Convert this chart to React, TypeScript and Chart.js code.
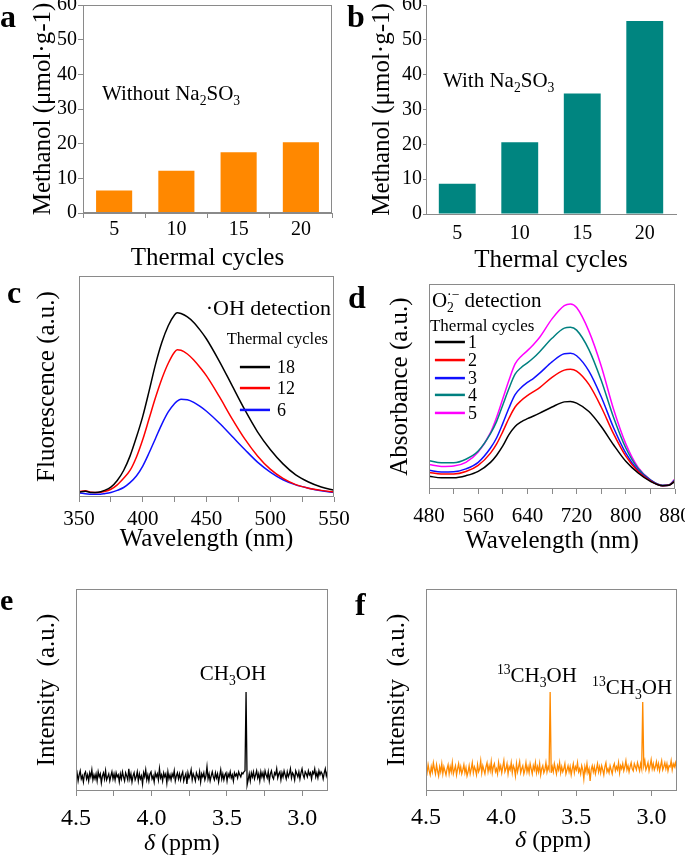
import React, { useEffect, useRef } from 'react';
import { Chart, registerables } from 'chart.js';

Chart.register(...registerables);

const SERIF = '"Liberation Serif", "Times New Roman", Times, serif';
const AXIS_COLOR = '#8a8a8a';

// ---------- panels a / b : methanol yield ----------
const cycleLabels = ['5', '10', '15', '20'];
const methanolWithoutNa2SO3 = [6.5, 12.2, 17.5, 20.4];
const methanolWithNa2SO3 = [8.7, 20.6, 34.6, 55.4];

// ---------- panel c : fluorescence ----------
const fluoWavelength = [350, 355, 360, 365, 370, 375, 380, 385, 390, 395, 400, 405, 410, 415, 420, 425, 427, 430, 435, 440, 445, 450, 460, 470, 480, 490, 500, 510, 520, 530, 540, 550];
const fluoCycles18 = [2.3, 2.6, 2.0, 2.1, 3.0, 4.5, 7.5, 12, 18.5, 27, 36.5, 48, 60, 70, 77.5, 82.5, 83.4, 83, 81.5, 79, 75.5, 71.5, 61.5, 50.5, 39.5, 29.5, 21.5, 15, 10, 6.8, 4.5, 3.0];
const fluoCycles12 = [2.5, 2.8, 2.1, 2.0, 2.5, 3.5, 5.5, 8.5, 12, 18, 26, 35.5, 45, 53.5, 60.5, 65.6, 66.6, 66.4, 64.7, 62, 58.6, 54.8, 45.5, 35.5, 26.3, 18.6, 12.6, 8.4, 5.6, 4.0, 3.0, 2.3];
const fluoCycles6 = [1.8, 1.5, 1.2, 1.2, 1.5, 2.0, 3.0, 4.3, 6.5, 9.5, 14, 20, 26.5, 33, 38.5, 42.3, 43.4, 44.2, 44, 42.8, 41, 38.8, 33.5, 27.5, 21.5, 15.8, 11.3, 7.8, 5.5, 4.0, 2.8, 2.0];
const fluoLegend = ['18', '12', '6'];

// ---------- panel d : absorbance ----------
const absWavelength = [480, 500, 520, 540, 560, 580, 590, 600, 610, 620, 630, 640, 650, 660, 680, 700, 710, 720, 740, 760, 780, 800, 820, 840, 860, 870, 880];
const absCycle1 = [6.2, 5.5, 5.5, 6.5, 8.6, 13, 16.5, 21, 26.5, 30.5, 32.8, 34.3, 35.6, 37, 40, 42.5, 42.7, 41.9, 37.8, 30.5, 21.6, 13.5, 7.8, 3.7, 1.6, 1.8, 3.7];
const absCycle2 = [8.1, 7.3, 7.3, 8.5, 11.5, 17.5, 22, 28, 34.5, 40, 43.2, 45.5, 47.5, 49.5, 54.5, 58, 58.4, 57.5, 51, 40, 27, 16, 8.5, 4, 1.6, 1.8, 4];
const absCycle3 = [9.1, 8.3, 8.4, 9.8, 13, 20, 25, 32, 39.5, 46, 49.5, 52, 54, 56.5, 62, 66, 66.2, 65, 57.5, 45, 30, 17.5, 9, 4.2, 1.6, 1.8, 4.2];
const absCycle4 = [13.8, 12.8, 12.8, 14.5, 18.5, 27, 33, 41, 49, 56, 59.3, 61.5, 64, 67, 73.5, 78.5, 78.9, 77.5, 68, 53, 35, 20, 10, 4.5, 1.8, 2, 4.5];
const absCycle5 = [11.9, 11, 11.2, 13, 18, 27.5, 35, 44, 53, 61, 64.8, 67.5, 70.5, 74, 83, 89.5, 90.3, 88.5, 77, 60, 39, 22, 10.5, 4.5, 1.8, 2, 5];
const absLegend = ['1', '2', '3', '4', '5'];

// ---------- panels e / f : NMR ----------
const NMR_START_PPM = 4.5;
const NMR_STEP_PPM = 0.007;
const nmrIntensityE = [
  7, 9, 5, 8, 10, 6, 7.5, 4.5, 8.5, 9.5, 6, 8, 5, 9, 7, 10.5, 5.5, 8, 6, 8.5,
  5, 9.5, 7, 8.5, 4, 7.5, 9, 6, 10, 5.5, 7, 8.5, 5, 7.5, 9.5, 6, 8.5, 5.5, 9, 7,
  8, 4.5, 8.5, 6, 9.5, 7, 5, 9, 7.5, 5.5, 11, 6, 8.5, 4.5, 7.5, 9, 5.5, 7, 9.5, 5,
  8.5, 6, 7.5, 3.5, 9, 7, 10.5, 5.5, 8, 5, 8.5, 9.5, 6, 7.5, 4.5, 9, 7, 8.5, 5.5, 11,
  6.5, 8, 5, 9, 7, 8.5, 4, 9.5, 6, 8, 5.5, 8.5, 7, 10, 5, 7.5, 9, 6, 8.5, 5.5,
  8, 9.5, 5, 7, 8.5, 3.5, 9, 6.5, 8, 10.5, 5.5, 8.5, 7, 5, 9, 7.5, 6, 9.5, 4.5, 8.5,
  7, 9, 5.5, 7.5, 12, 6, 8.5, 5, 7.5, 9.5, 7, 5.5, 9, 6.5, 8.5, 4.5, 7.5, 10.5, 6, 8.5,
  5.5, 8, 9, 5, 8.5, 7, 9.5, 6.5, 8, 5, 9, 7.5, 8.5, 6.5, 9.5, 8, 7, 9, 8.5, 9.5,
  10, 49, 3, 5.5, 8.5, 5, 9, 7, 9.5, 6, 8, 10, 6.5, 8.5, 5, 9.5, 7, 9, 6, 10,
  8, 6.5, 9.5, 5, 8.5, 10, 7, 6, 9, 8, 11, 6.5, 8.5, 9.5, 5.5, 9, 7, 10, 8, 6,
  9.5, 7, 8.5, 11, 6.5, 9, 8, 5.5, 10, 8.5, 7, 9.5, 6, 9, 11, 8, 6.5, 9.5, 8.5, 7,
  10, 8, 9, 6, 9.5, 8.5, 11, 7, 9, 6.5, 10, 8, 9.5, 8.5, 6, 9, 11, 7.5, 9.5, 8.5,
];
const nmrIntensityF = [
  11, 9, 13, 10, 8, 12, 9.5, 14, 11, 8.5, 13, 10, 7.5, 12, 9.5, 13.5, 8.5, 12, 10, 8,
  11, 13, 8.5, 12, 9.5, 14, 8.5, 10.5, 12.5, 8, 11, 13.5, 9.5, 12, 8.5, 10.5, 13, 9, 11.5, 7.5,
  9.5, 12.5, 8.5, 11, 14, 9, 12, 10.5, 8, 13, 9.5, 11, 15, 9, 12.5, 10.5, 8.5, 12, 14, 9.5,
  12.5, 10, 14.5, 9, 12, 13.5, 9.5, 11, 8.5, 14, 10.5, 12.5, 9, 12, 15, 9.5, 11, 13.5, 8.5, 12,
  10.5, 14, 9, 12.5, 11, 7.5, 13.5, 9.5, 12, 14.5, 9, 11, 12.5, 8.5, 10.5, 14, 9.5, 12, 9, 13.5,
  11, 8.5, 12.5, 10.5, 14, 9, 12, 9.5, 13.5, 8, 11, 12.5, 9, 10.5, 14, 9.5, 12, 10.5, 49, 9,
  12, 9.5, 13.5, 11, 8.5, 12.5, 10.5, 14, 9, 12, 9.5, 11, 13.5, 8.5, 10.5, 12.5, 9.5, 12, 8, 11,
  13.5, 9, 12, 10.5, 14, 9.5, 11, 8.5, 12.5, 10.5, 6, 12, 9.5, 13.5, 9, 11, 5, 10.5, 12.5, 9.5,
  12, 8.5, 11, 13.5, 9.5, 12, 9, 12.5, 10.5, 8, 12, 14, 9.5, 11, 9, 12.5, 10.5, 8.5, 12, 13.5,
  10, 12, 10.5, 14, 9, 12.5, 11, 13.5, 10, 12, 15, 10.5, 12.5, 9.5, 12, 14, 11, 10, 13.5, 12,
  10.5, 14, 12, 10, 13.5, 11, 44, 12.5, 15, 10.5, 12, 14, 10, 12.5, 15.5, 11, 13.5, 10.5, 12, 14.5,
  11, 13.5, 10, 12.5, 15, 10.5, 12, 14, 11, 13.5, 10, 12.5, 12, 15, 10.5, 13.5, 12, 14, 11, 12.5,
];

// ---------- helpers ----------
type Seg = { t: string; k?: 'b' | 'p'; it?: boolean; hold?: boolean };
type Note = { segs: Seg[]; fx: number; fy: number; size: number; align: 'left' | 'center' | 'right' };
type LegendSpec = { fx1: number; fx2: number; fxl: number; fys: number[]; size: number };
type Decor = { frame: boolean; notes: Note[]; legend?: LegendSpec; letter: { t: string; x: number; y: number; size: number } };
type Box = { left: number; top: number; width: number; height: number };
type Layout = { canvas: Box; padTop: number; padRight: number; yWidth: number; xHeight: number };

function segFont(s: Seg, size: number) {
  const sz = s.k ? size * 0.65 : size;
  return `${s.it ? 'italic ' : ''}${sz}px ${SERIF}`;
}

function drawRich(ctx: CanvasRenderingContext2D, segs: Seg[], x: number, y: number, size: number, align: string) {
  const ws = segs.map((s) => {
    ctx.font = segFont(s, size);
    return ctx.measureText(s.t).width;
  });
  let total = 0;
  segs.forEach((s, i) => {
    if (!s.hold) total += ws[i];
  });
  let cx = align === 'left' ? x : align === 'center' ? x - total / 2 : x - total;
  ctx.textAlign = 'left';
  ctx.textBaseline = 'alphabetic';
  ctx.fillStyle = '#000';
  segs.forEach((s, i) => {
    ctx.font = segFont(s, size);
    const dy = s.k === 'b' ? size * 0.22 : s.k === 'p' ? -size * 0.38 : 0;
    ctx.fillText(s.t, cx, y + dy);
    if (!s.hold) cx += ws[i];
  });
}

function decorPlugin(d: Decor, canvas: Box) {
  return {
    id: 'panelDecor',
    afterDraw(chart: any) {
      const ctx: CanvasRenderingContext2D = chart.ctx;
      const a = chart.chartArea;
      const w = a.right - a.left;
      const h = a.bottom - a.top;
      ctx.save();
      if (d.frame) {
        ctx.strokeStyle = AXIS_COLOR;
        ctx.lineWidth = 1;
        ctx.strokeRect(Math.round(a.left) + 0.5, Math.round(a.top) + 0.5, Math.round(w) - 1, Math.round(h) - 1);
      }
      d.notes.forEach((n) => {
        drawRich(ctx, n.segs, a.left + n.fx * w, a.top + n.fy * h, n.size, n.align);
      });
      if (d.legend) {
        const L = d.legend;
        chart.data.datasets.forEach((ds: any, i: number) => {
          const y = a.top + L.fys[i] * h;
          ctx.strokeStyle = ds.borderColor;
          ctx.lineWidth = 2.5;
          ctx.beginPath();
          ctx.moveTo(a.left + L.fx1 * w, y);
          ctx.lineTo(a.left + L.fx2 * w, y);
          ctx.stroke();
          ctx.fillStyle = '#000';
          ctx.font = `${L.size}px ${SERIF}`;
          ctx.textAlign = 'left';
          ctx.textBaseline = 'middle';
          ctx.fillText(ds.label, a.left + L.fxl * w, y + 1);
        });
      }
      ctx.fillStyle = '#000';
      ctx.font = `bold ${d.letter.size}px ${SERIF}`;
      ctx.textAlign = 'left';
      ctx.textBaseline = 'alphabetic';
      ctx.fillText(d.letter.t, d.letter.x - canvas.left, d.letter.y - canvas.top);
      ctx.restore();
    },
  };
}

const fitY = (w: number) => (s: any) => {
  s.width = w;
  s.paddingTop = 0;
  s.paddingBottom = 0;
  s.paddingLeft = 0;
  s.paddingRight = 0;
};
const fitX = (h: number) => (s: any) => {
  s.height = h;
  s.paddingTop = 0;
  s.paddingBottom = 0;
  s.paddingLeft = 0;
  s.paddingRight = 0;
};

function baseOptions(L: Layout) {
  return {
    responsive: false,
    maintainAspectRatio: false,
    animation: false,
    devicePixelRatio: 1,
    events: [],
    layout: { padding: { top: L.padTop, right: L.padRight, left: 0, bottom: 0 } },
    plugins: { legend: { display: false }, tooltip: { enabled: false }, title: { display: false } },
  };
}

const titleFont = { family: SERIF, size: 25 };
const yTitle = (text: string, pad: number) => ({ display: true, text, font: titleFont, color: '#000', padding: { top: pad, bottom: 0 } });
const xTitle = (text: string, pad: number) => ({ display: true, text, font: titleFont, color: '#000', padding: { top: 0, bottom: pad } });

const toXY = (xs: number[], ys: number[]) => xs.map((x, i) => ({ x, y: ys[i] }));
const nmrXY = (ys: number[]) => ys.map((y, i) => ({ x: +(NMR_START_PPM - i * NMR_STEP_PPM).toFixed(4), y }));

const subNa2SO3 = (prefix: string): Seg[] => [{ t: prefix + 'Na' }, { t: '2', k: 'b' }, { t: 'SO' }, { t: '3', k: 'b' }];
const ch3oh = (label13: boolean): Seg[] => [
  ...(label13 ? [{ t: '13', k: 'p' as const }] : []),
  { t: 'CH' },
  { t: '3', k: 'b' },
  { t: 'OH' },
];

// ---------- chart configs ----------
function barConfig(L: Layout, values: number[], color: string, framed: boolean, note: Note, letter: any, barPct: number, xTickLen: number, xPad: number, yTickLen: number, yPad: number, yTitlePad: number, xTitlePad: number) {
  const tf = { family: SERIF, size: 20 };
  return {
    type: 'bar',
    data: {
      labels: cycleLabels,
      datasets: [{ data: values, backgroundColor: color, borderWidth: 0, barPercentage: barPct, categoryPercentage: 1 }],
    },
    options: {
      ...baseOptions(L),
      scales: {
        x: {
          offset: true,
          grid: { display: true, drawOnChartArea: false, drawTicks: xTickLen > 0, tickLength: xTickLen, color: AXIS_COLOR, offset: true },
          border: { display: true, color: AXIS_COLOR },
          ticks: { font: tf, color: '#000', padding: xPad, maxRotation: 0 },
          title: xTitle('Thermal cycles', xTitlePad),
          afterFit: fitX(L.xHeight),
        },
        y: {
          min: 0,
          max: 60,
          grid: { display: true, drawOnChartArea: false, drawTicks: true, tickLength: yTickLen, color: AXIS_COLOR },
          border: { display: true, color: AXIS_COLOR },
          ticks: { stepSize: 10, font: tf, color: '#000', padding: yPad },
          title: yTitle('Methanol (μmol·g-1)', yTitlePad),
          afterFit: fitY(L.yWidth),
        },
      },
    },
    plugins: [decorPlugin({ frame: framed, notes: [note], letter }, L.canvas)],
  };
}

function lineConfig(
  L: Layout,
  datasets: any[],
  xOpts: any,
  yTitleText: string,
  yTitlePad: number,
  xTitleText: string | null,
  xTitlePad: number,
  decor: Decor
) {
  return {
    type: 'line',
    data: { datasets },
    options: {
      ...baseOptions(L),
      scales: {
        x: {
          type: 'linear',
          ...xOpts,
          grid: { display: true, drawOnChartArea: false, drawTicks: true, tickLength: 5, color: AXIS_COLOR },
          border: { display: false },
          title: xTitleText ? xTitle(xTitleText, xTitlePad) : { display: false },
          afterFit: fitX(L.xHeight),
        },
        y: {
          min: 0,
          max: 100,
          grid: { display: false, drawTicks: false },
          border: { display: false },
          ticks: { display: false },
          title: yTitle(yTitleText, yTitlePad),
          afterFit: fitY(L.yWidth),
        },
      },
    },
    plugins: [decorPlugin(decor, L.canvas)],
  };
}

const lineDs = (label: string, data: any[], color: string, width: number, smooth: boolean) => ({
  label,
  data,
  borderColor: color,
  backgroundColor: color,
  borderWidth: width,
  pointRadius: 0,
  fill: false,
  tension: smooth ? 0.4 : 0,
  cubicInterpolationMode: smooth ? 'monotone' : 'default',
});

const specFont = { family: SERIF, size: 21 };
const nmrFont = { family: SERIF, size: 24 };

const LAYOUTS: Record<string, Layout> = {
  a: { canvas: { left: 0, top: 0, width: 340, height: 278 }, padTop: 5, padRight: 8, yWidth: 83, xHeight: 65 },
  b: { canvas: { left: 340, top: 0, width: 345, height: 278 }, padTop: 5, padRight: 9, yWidth: 86, xHeight: 64 },
  c: { canvas: { left: 0, top: 266, width: 350, height: 300 }, padTop: 10, padRight: 16, yWidth: 79, xHeight: 69 },
  d: { canvas: { left: 340, top: 270, width: 345, height: 296 }, padTop: 14, padRight: 10, yWidth: 89, xHeight: 77 },
  e: { canvas: { left: 0, top: 576, width: 340, height: 285 }, padTop: 13, padRight: 12, yWidth: 76, xHeight: 70 },
  f: { canvas: { left: 340, top: 576, width: 345, height: 285 }, padTop: 13, padRight: 8, yWidth: 86, xHeight: 70 },
};

const ppmTicks = (pad: number) => ({
  min: 2.83,
  max: 4.5,
  reverse: true,
  ticks: {
    stepSize: 0.25,
    includeBounds: false,
    autoSkip: false,
    maxRotation: 0,
    font: nmrFont,
    color: '#000',
    padding: pad,
    callback: (v: any) => {
      const d = Number(v) * 2;
      return Math.abs(d - Math.round(d)) < 1e-6 ? Number(v).toFixed(1) : '';
    },
  },
});

function buildConfig(key: string): any {
  const L = LAYOUTS[key];
  switch (key) {
    case 'a':
      return barConfig(
        L, methanolWithoutNa2SO3, '#FF8800', true,
        { segs: subNa2SO3('Without '), fx: 0.076, fy: 0.457, size: 21, align: 'left' },
        { t: 'a', x: 0, y: 27, size: 32 },
        0.58, 5, 0, 5, 1, 28, 5
      );
    case 'b':
      return barConfig(
        L, methanolWithNa2SO3, '#008580', false,
        { segs: subNa2SO3('With '), fx: 0.068, fy: 0.392, size: 21, align: 'left' },
        { t: 'b', x: 347, y: 27, size: 32 },
        0.59, 0, 8, 3, 1, 27, 3
      );
    case 'c':
      return lineConfig(
        L,
        [
          lineDs(fluoLegend[0], toXY(fluoWavelength, fluoCycles18), '#000000', 1.5, true),
          lineDs(fluoLegend[1], toXY(fluoWavelength, fluoCycles12), '#FF0000', 1.5, true),
          lineDs(fluoLegend[2], toXY(fluoWavelength, fluoCycles6), '#1010FF', 1.5, true),
        ],
        {
          min: 350,
          max: 550,
          ticks: {
            stepSize: 25, autoSkip: false, maxRotation: 0, font: specFont, color: '#000', padding: 5,
            callback: (v: any) => (Number(v) % 50 === 0 ? String(v) : ''),
          },
        },
        'Fluorescence (a.u.)', 32, 'Wavelength (nm)', 12,
        {
          frame: true,
          notes: [
            { segs: [{ t: '·OH detection' }], fx: 0.988, fy: 0.176, size: 22, align: 'right' },
            { segs: [{ t: 'Thermal cycles' }], fx: 0.976, fy: 0.308, size: 16.5, align: 'right' },
          ],
          legend: { fx1: 0.631, fx2: 0.749, fxl: 0.776, fys: [0.412, 0.507, 0.606], size: 18 },
          letter: { t: 'c', x: 7, y: 303, size: 32 },
        }
      );
    case 'd':
      return lineConfig(
        L,
        [
          lineDs(absLegend[0], toXY(absWavelength, absCycle1), '#000000', 1.5, true),
          lineDs(absLegend[1], toXY(absWavelength, absCycle2), '#FF0000', 1.5, true),
          lineDs(absLegend[2], toXY(absWavelength, absCycle3), '#1010FF', 1.5, true),
          lineDs(absLegend[3], toXY(absWavelength, absCycle4), '#008080', 1.5, true),
          lineDs(absLegend[4], toXY(absWavelength, absCycle5), '#FF00FF', 1.5, true),
        ],
        {
          min: 480,
          max: 880,
          ticks: {
            stepSize: 40, autoSkip: false, maxRotation: 0, font: specFont, color: '#000', padding: 10,
            callback: (v: any) => ((Number(v) - 480) % 80 === 0 ? String(v) : ''),
          },
        },
        'Absorbance (a.u.)', 45, 'Wavelength (nm)', 10,
        {
          frame: true,
          notes: [
            { segs: [{ t: 'O' }, { t: '2', k: 'b', hold: true }, { t: '·−', k: 'p' }, { t: ' detection' }], fx: 0.012, fy: 0.112, size: 21, align: 'left' },
            { segs: [{ t: 'Thermal cycles' }], fx: 0.004, fy: 0.229, size: 17, align: 'left' },
          ],
          legend: { fx1: 0.024, fx2: 0.146, fxl: 0.159, fys: [0.283, 0.371, 0.459, 0.541, 0.629], size: 18 },
          letter: { t: 'd', x: 348, y: 308, size: 32 },
        }
      );
    case 'e':
      return lineConfig(
        L,
        [lineDs('CH3OH', nmrXY(nmrIntensityE), '#000000', 1.3, false)],
        ppmTicks(8),
        'Intensity  (a.u.)', 32, null, 0,
        {
          frame: true,
          notes: [
            { segs: ch3oh(false), fx: 0.623, fy: 0.45, size: 21, align: 'center' },
            { segs: [{ t: 'δ', it: true }, { t: ' (ppm)' }], fx: 0.42, fy: 1.292, size: 24, align: 'center' },
          ],
          letter: { t: 'e', x: 0, y: 610, size: 30 },
        }
      );
    default:
      return lineConfig(
        L,
        [lineDs('13CH3OH', nmrXY(nmrIntensityF), '#FF8A00', 1.3, false)],
        ppmTicks(7),
        'Intensity  (a.u.)', 42, null, 0,
        {
          frame: true,
          notes: [
            { segs: ch3oh(true), fx: 0.442, fy: 0.46, size: 21, align: 'center' },
            { segs: ch3oh(true), fx: 0.821, fy: 0.52, size: 21, align: 'center' },
            { segs: [{ t: 'δ', it: true }, { t: ' (ppm)' }], fx: 0.506, fy: 1.277, size: 24, align: 'center' },
          ],
          letter: { t: 'f', x: 355, y: 615, size: 32 },
        }
      );
  }
}

function Panel({ id }: { id: string }) {
  const ref = useRef<HTMLCanvasElement>(null);
  const box = LAYOUTS[id].canvas;
  useEffect(() => {
    const chart = new Chart(ref.current as HTMLCanvasElement, buildConfig(id));
    return () => chart.destroy();
  }, [id]);
  return (
    <canvas
      ref={ref}
      width={box.width}
      height={box.height}
      style={{ position: 'absolute', left: box.left, top: box.top, width: box.width, height: box.height }}
    />
  );
}

export default function App() {
  return (
    <div style={{ position: 'absolute', left: 0, top: 0, width: 685, height: 861, background: '#fff', overflow: 'hidden' }}>
      {['a', 'b', 'c', 'd', 'e', 'f'].map((k) => (
        <Panel key={k} id={k} />
      ))}
    </div>
  );
}
